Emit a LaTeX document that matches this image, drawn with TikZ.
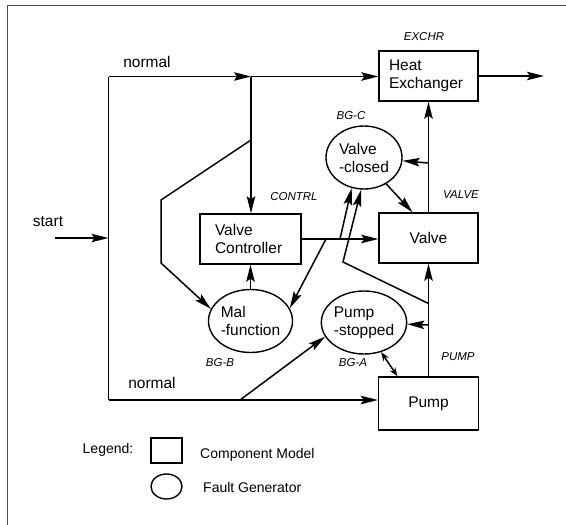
\documentclass[tikz,border=0pt]{standalone}
\usepackage{fontspec}
\setmainfont{Liberation Sans}
\usetikzlibrary{arrows.meta,shapes.geometric}
\newcommand{\txtfont}{\fontsize{15.5}{18}\selectfont}
\newcommand{\idfont}{\fontsize{11.5}{13}\selectfont\itshape}
\newcommand{\legfont}{\fontsize{14}{16}\selectfont}

\begin{document}
\begin{tikzpicture}[x=10pt,y=-10pt,>={Stealth[length=17pt,width=8.5pt,inset=3pt]},
  flow/.style={->,line width=1.5pt},
  comp/.style={draw,line width=1.4pt,minimum height=50pt,font=\txtfont},
  fault/.style={draw,ellipse,line width=1.4pt,minimum width=76pt,minimum height=63pt,
                inner sep=0pt,align=left,font=\txtfont},
  modtag/.style={font=\idfont,inner sep=0pt},
  lbl/.style={font=\txtfont,inner sep=0pt}]
\useasboundingbox (0,0) rectangle (56.6,52.5);
% ---------- page frame (top and left edge only) ----------
\draw[line width=0.7pt,black!70] (56.6,0.55) -- (0.7,0.55) -- (0.7,52.5);
% ---------- component models ----------
\node[comp,text width=79pt,inner xsep=10pt,align=left] (exchr) at (42.85,7.6) {Heat\\Exchanger};
\node[comp,text width=71pt,inner xsep=15pt,align=left] (contrl) at (25.05,23.9) {Valve\\Controller};
\node[comp,minimum width=99pt] (valve) at (42.85,23.8) {Valve};
\node[comp,minimum width=100pt,minimum height=53pt] (pump) at (42.85,40.35) {Pump};
% ---------- fault generators ----------
\node[fault] (vclosed) at (36.4,15.75) {Valve\\-closed};
\node[fault] (malf) at (25.05,32.1) {Mal\\-function};
\node[fault] (pstop) at (36.4,32.25) {Pump\\-stopped};
% ---------- labels ----------
\node[lbl] (nrmtop) at (14.7,6.2) {normal};
\node[lbl] (nrmbot) at (15.2,38.3) {normal};
\node[lbl] (start) at (4.8,22.2) {start};
\node[modtag] (texchr) at (42.4,3.7) {EXCHR};
\node[modtag] (tbgc) at (35.1,11.6) {BG-C};
\node[modtag] (tcontrl) at (29.4,19.7) {CONTRL};
\node[modtag] (tvalve) at (46.1,19.5) {VALVE};
\node[modtag] (tbgb) at (22.0,36.3) {BG-B};
\node[modtag] (tbga) at (35.3,36.3) {BG-A};
\node[modtag] (tpump) at (45.8,35.7) {PUMP};
% ---------- junctions on the flow lines ----------
\coordinate (cTL) at (10.85,7.65);
\coordinate (cBL) at (10.85,40.0);
\coordinate (jN) at (25.1,7.65);
\coordinate (jV) at (25.1,14.0);
\coordinate (stW) at (5.5,23.8);
\coordinate (stE) at (10.85,23.8);
\coordinate (out) at (54.4,7.6);
\coordinate (jB1) at (32.6,23.9);
\coordinate (jB2) at (34.0,23.9);
\coordinate (jP) at (42.85,30.35);
\coordinate (jC) at (42.85,16.3);
\coordinate (jS) at (42.85,32.5);
\coordinate (jD) at (24.0,40.0);
% ---------- normal flow ----------
\draw[line width=1.5pt] (cBL) -- (cTL);
\draw[flow] (stW) -- (stE);
\draw[flow] (cTL) -- (jN);
\draw[flow] (jN) -- (jN -| exchr.west);
\draw[flow] (exchr) -- (out);
\draw[flow] (jN) -- (jN |- contrl.north);
\draw[flow] (cBL) -- (cBL -| pump.west);
\draw[flow] (contrl.east) -- (contrl.east -| valve.west);
\draw[flow] (pump) -- (valve);
\draw[flow] (valve) -- (exchr);
% ---------- fault paths ----------
\draw[flow] (jV) -- (16.1,20.0) -- (16.1,26.3) -- (malf.163);
\draw[flow] (malf) -- (contrl);
\draw[flow] (jB1) -- (malf.18);
\draw[flow] (jB2) -- (vclosed.248);
\draw[flow] (jP) -- (34.3,26.2) -- (vclosed.265);
\draw[flow] (jC) -- (vclosed);
\draw[flow] (jS) -- (pstop);
\draw[flow] (vclosed.310) -- ([xshift=-16pt]valve.north);
\draw[flow,{Stealth[length=9pt,width=6.5pt]}-{Stealth[length=9pt,width=6.5pt]}]
  (pstop.300) -- ([xshift=-31pt]pump.north);
\draw[flow] (jD) -- (pstop.200);
% ---------- legend ----------
\node[lbl,font=\legfont] (leg) at (10.8,45.0) {Legend:};
\node[draw,line width=1.4pt,minimum width=31pt,minimum height=25pt] (legbox) at (16.65,45.05) {};
\node[draw,ellipse,line width=1.4pt,minimum width=31pt,minimum height=25pt] (legell) at (16.65,48.65) {};
\node[lbl,font=\legfont,anchor=west] (legc) at (20.0,45.5) {Component Model};
\node[lbl,font=\legfont,anchor=west] (legf) at (20.3,48.7) {Fault Generator};
\end{tikzpicture}
\end{document}
